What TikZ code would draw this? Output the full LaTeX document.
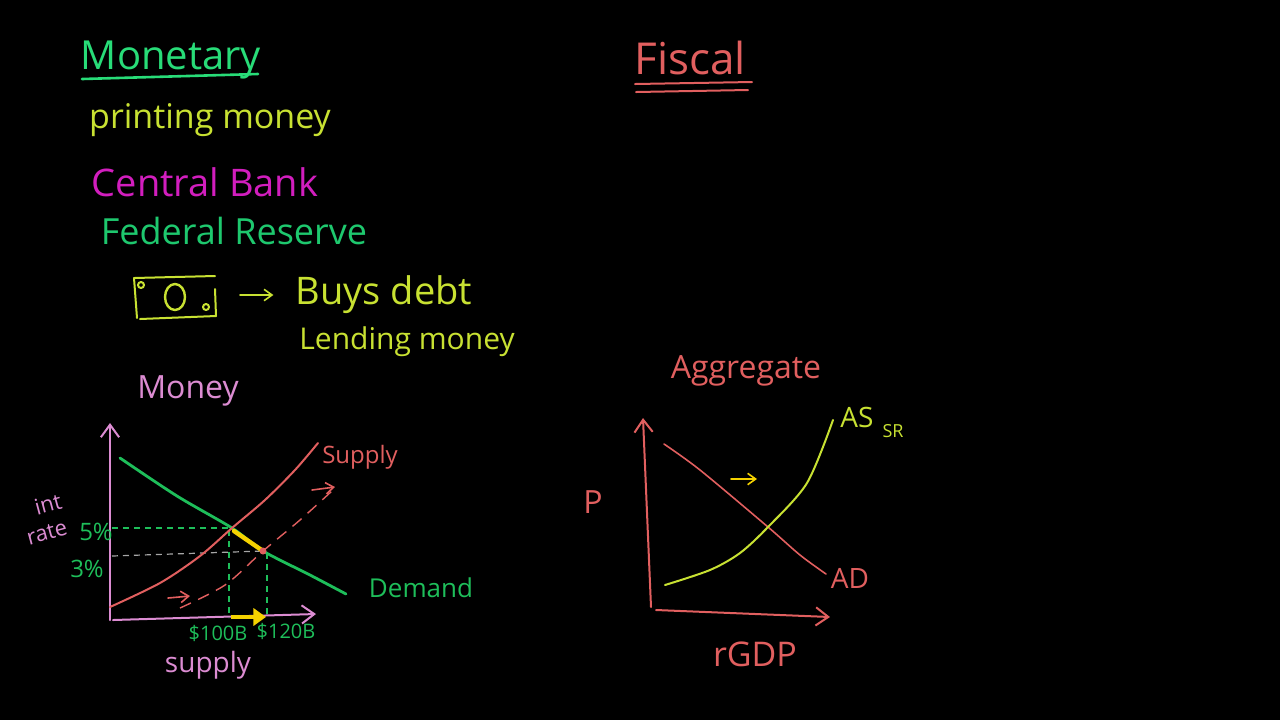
\documentclass[tikz,border=0pt]{standalone}
\usepackage{fontspec}
\setmainfont{Open Sans}
\usetikzlibrary{arrows.meta}
\definecolor{mgreen}{RGB}{40,220,120}
\definecolor{fgreen}{RGB}{30,200,110}
\definecolor{dgreen}{RGB}{30,190,90}
\definecolor{lime}{RGB}{200,225,50}
\definecolor{mag}{RGB}{210,30,190}
\definecolor{salmon}{RGB}{225,95,95}
\definecolor{pinkax}{RGB}{220,140,210}
\definecolor{gold}{RGB}{245,210,0}
\tikzset{
  % --- handwritten labels ----------------------------------------------------
  txt/.style={inner sep=0pt,font=\fontsize{#1pt}{#1pt}\selectfont},
  txt/.default=16,
  % --- strokes ---------------------------------------------------------------
  stroke/.style={line width=1pt,line cap=round,line join=round},
  axis/.style={stroke,-{Straight Barb[length=2.2mm,width=3.2mm]}},
  harrow/.style={stroke,line width=0.8pt,-{Straight Barb[length=1.4mm,width=2mm]}},
  guide/.style={line width=0.6pt,dash pattern=on 3pt off 2.5pt},
}

\begin{document}
\begin{tikzpicture}[x=0.5pt,y=-0.5pt]
  \fill[black] (0,0) rectangle (1280,720);
  \useasboundingbox (0,0) rectangle (1280,720);

  % --- monetary notes --------------------------------------------------------
  \node[txt=20,text=mgreen] (mon) at (171,60) {Monetary};
  \draw[stroke,mgreen,line width=1.3pt] (82,79) -- (258,74);
  \node[txt=17,text=lime]  (print) at (210,120) {printing money};
  \node[txt=19,text=mag]   (cb)    at (205,182) {Central Bank};
  \node[txt=18,text=fgreen](fed)   at (234,231) {Federal Reserve};

  % dollar bill sketch
  \coordinate (b1) at (134,278);
  \coordinate (b2) at (216,316);
  \draw[stroke,lime] (b1) -- (215,276);
  \draw[stroke,lime] (b1) -- (137,318);
  \draw[stroke,lime] (140,319) -- (b2);
  \draw[stroke,lime] (215,289) -- (b2);
  \draw[stroke,lime] (141,285) circle (3);
  \draw[stroke,lime,line width=1.2pt] (175,297) ellipse (10 and 13);
  \draw[stroke,lime] (206,307) circle (3);

  \node[txt=19,text=lime] (buy)  at (384,295) {Buys debt};
  \node[txt=15,text=lime] (lend) at (407,342) {Lending money};
  \coordinate (bill) at (240,295);
  \draw[harrow,lime,shorten >=11pt] (bill) -- (buy.west);

  % --- money market ----------------------------------------------------------
  \node[txt=16,text=pinkax] (money) at (188,391) {Money};
  \coordinate (O1) at (110,620);
  \coordinate (Y1) at (110,423);
  \coordinate (X1) at (316,614);
  \draw[axis,pinkax] (O1) -- (Y1);
  \draw[axis,pinkax] (113,620) -- (X1);

  \coordinate (eq1) at (232,528);
  \coordinate (eq2) at (263,551);
  % guides
  \draw[guide,dgreen] (112,528) -- (eq1);
  \draw[guide,gray!70] (112,556) -- (eq2);
  \draw[guide,dgreen] (229,530) -- (229,618);
  \draw[guide,dgreen] (267,553) -- (267,616);

  % curves
  \draw[stroke,dgreen,line width=1.4pt] plot[smooth] coordinates
    {(120,458) (177,496) (eq1) (eq2) (310,575) (346,594)};
  \draw[stroke,salmon] plot[smooth] coordinates
    {(110,607) (160,583) (200,556) (eq1) (265,500) (295,470) (318,443)};
  \draw[salmon,line width=0.7pt,dash pattern=on 6pt off 4pt] plot[smooth] coordinates
    {(180,608) (225,585) (eq2) (300,520) (333,490)};
  \draw[stroke,gold,line width=2.2pt] (234,531) -- (eq2);
  \fill[salmon] (eq2) circle (3.5);
  \draw[harrow,salmon] (168,598) -- (190,596);
  \draw[harrow,salmon] (312,490) -- (335,487);
  \draw[gold,line width=2.4pt,-{Triangle[length=2.2mm,width=3mm]}] (231,617) -- (266,617);

  \node[txt=12,text=salmon] (sup)  at (360,457) {Supply};
  \node[txt=13,text=dgreen] (dem)  at (421,588) {Demand};
  \node[txt=11,text=pinkax,rotate=15] (int)  at (48,504) {int};
  \node[txt=11,text=pinkax,rotate=15] (rate) at (47,533) {rate};
  \node[txt=12,text=dgreen] (p5) at (96,532) {5\%};
  \node[txt=12,text=dgreen] (p3) at (87,569) {3\%};
  \node[txt=10,text=dgreen] (q1) at (218,633) {\$100B};
  \node[txt=10,text=dgreen] (q2) at (286,631) {\$120B};
  \node[txt=14,text=pinkax] (sup2) at (208,665) {supply};

  % --- fiscal ----------------------------------------------------------------
  \node[txt=22,text=salmon] (fis) at (690,58) {Fiscal};
  \draw[stroke,salmon] (635,84) -- (752,82);
  \draw[stroke,salmon] (636,92) -- (748,90);

  \node[txt=16,text=salmon] (agg) at (746,371) {Aggregate};
  \coordinate (O2) at (651,607);
  \coordinate (Y2) at (643,418);
  \coordinate (X2) at (830,617);
  \draw[axis,salmon] (O2) -- (Y2);
  \draw[axis,salmon] (656,610) -- (X2);
  \node[txt=16,text=salmon] (P) at (593,502) {P};
  \node[txt=17,text=salmon] (gdp) at (755,654) {rGDP};

  \coordinate (eq3) at (768,527);
  \draw[stroke,salmon,line width=0.8pt] plot[smooth] coordinates
    {(664,444) (700,470) (eq3) (800,555) (826,574)};
  \draw[stroke,lime] plot[smooth] coordinates
    {(665,585) (710,570) (740,553) (eq3) (807,483) (833,420)};
  \draw[harrow,gold] (731,479) -- (757,479);

  \node[txt=14,text=lime] (as) at (857,417) {AS};
  \node[txt=9,text=lime]  (sr) at (893,431) {SR};
  \node[txt=14,text=salmon] (ad) at (850,578) {AD};
\end{tikzpicture}
\end{document}
